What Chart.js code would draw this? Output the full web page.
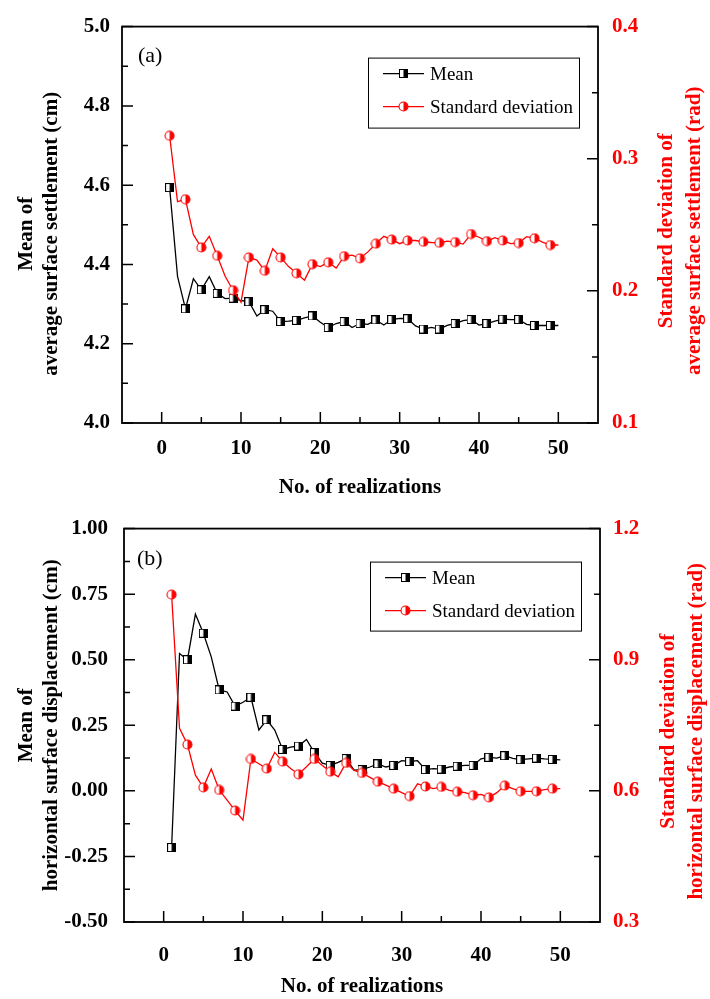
<!DOCTYPE html>
<html><head><meta charset="utf-8">
<script src="https://cdn.jsdelivr.net/npm/chart.js@4.4.1/dist/chart.umd.min.js"></script>
<style>
html,body{margin:0;padding:0;background:#fff;}
#wrap{position:relative;width:710px;height:999px;overflow:hidden;}
canvas{position:absolute;left:0;}
</style></head><body>
<div id="wrap">
<canvas id="c1" width="710" height="500" style="top:0"></canvas>
<canvas id="c2" width="710" height="499" style="top:500px"></canvas>
</div>
<script>
// ---------- data ----------
const realizations = [1,2,3,4,5,6,7,8,9,10,11,12,13,14,15,16,17,18,19,20,21,22,23,24,25,26,27,28,29,30,31,32,33,34,35,36,37,38,39,40,41,42,43,44,45,46,47,48,49,50];

const meanSettlement = [4.594,4.370,4.288,4.364,4.336,4.369,4.327,4.314,4.315,4.309,4.306,4.270,4.286,4.282,4.256,4.257,4.259,4.265,4.270,4.254,4.241,4.251,4.256,4.241,4.251,4.249,4.260,4.247,4.261,4.264,4.263,4.245,4.237,4.241,4.237,4.246,4.251,4.258,4.261,4.247,4.251,4.257,4.262,4.261,4.261,4.249,4.246,4.246,4.246,4.246];
const sdSettlement = [0.3174,0.2676,0.2693,0.2425,0.2329,0.2413,0.2266,0.2111,0.2005,0.1914,0.2253,0.2233,0.2152,0.2319,0.2253,0.2184,0.2133,0.2081,0.2202,0.2184,0.2216,0.2172,0.2262,0.2270,0.2246,0.2295,0.2357,0.2413,0.2388,0.2357,0.2381,0.2381,0.2371,0.2366,0.2364,0.2376,0.2369,0.2354,0.2430,0.2406,0.2376,0.2403,0.2381,0.2357,0.2362,0.2410,0.2398,0.2369,0.2347,0.2347];

const meanDisplacement = [-0.216,0.524,0.500,0.674,0.601,0.511,0.385,0.377,0.323,0.338,0.357,0.232,0.271,0.232,0.158,0.167,0.171,0.196,0.146,0.106,0.097,0.109,0.123,0.079,0.081,0.091,0.103,0.091,0.097,0.115,0.112,0.115,0.081,0.085,0.083,0.091,0.094,0.097,0.097,0.122,0.128,0.125,0.134,0.124,0.119,0.122,0.125,0.122,0.120,0.118];
const sdDisplacement = [1.049,0.743,0.706,0.636,0.608,0.650,0.602,0.579,0.555,0.533,0.673,0.662,0.651,0.688,0.667,0.651,0.638,0.655,0.673,0.658,0.644,0.632,0.664,0.647,0.641,0.631,0.621,0.613,0.605,0.596,0.588,0.616,0.610,0.605,0.609,0.601,0.598,0.596,0.590,0.592,0.585,0.596,0.612,0.605,0.599,0.599,0.599,0.603,0.605,0.605];

// ---------- ticks ----------
const xTickValues = [0,10,20,30,40,50];
const xTickLabels = ['0','10','20','30','40','50'];
const xMinorValues = [5,15,25,35,45];

const yTicksA = [4.0,4.2,4.4,4.6,4.8,5.0];
const yLabelsA = ['4.0','4.2','4.4','4.6','4.8','5.0'];
const yMinorA = [4.1,4.3,4.5,4.7,4.9];
const y1TicksA = [0.1,0.2,0.3,0.4];
const y1LabelsA = ['0.1','0.2','0.3','0.4'];
const y1MinorA = [0.15,0.25,0.35];

const yTicksB = [-0.50,-0.25,0.00,0.25,0.50,0.75,1.00];
const yLabelsB = ['-0.50','-0.25','0.00','0.25','0.50','0.75','1.00'];
const yMinorB = [-0.375,-0.125,0.125,0.375,0.625,0.875];
const y1TicksB = [0.3,0.6,0.9,1.2];
const y1LabelsB = ['0.3','0.6','0.9','1.2'];
const y1MinorB = [0.45,0.75,1.05];

const seriesNames = ['Mean','Standard deviation'];

// ---------- styling ----------
const FONT = '"Liberation Serif", "Times New Roman", serif';
const RED = '#ff0000';

function squareMarker(){
  const c=document.createElement('canvas'); c.width=9; c.height=9;
  const g=c.getContext('2d');
  g.fillStyle='#000'; g.fillRect(0,0,9,9);
  g.fillStyle='#fff'; g.fillRect(1,1,3.5,7);
  return c;
}
function circleMarker(){
  const c=document.createElement('canvas'); c.width=11; c.height=11;
  const g=c.getContext('2d');
  g.beginPath(); g.arc(5.5,5.5,4.5,0,Math.PI*2); g.fillStyle='#fff'; g.fill();
  g.beginPath(); g.moveTo(5.5,1); g.arc(5.5,5.5,4.5,-Math.PI/2,Math.PI/2); g.closePath(); g.fillStyle=RED; g.fill();
  g.beginPath(); g.arc(5.5,5.5,4.5,0,Math.PI*2); g.strokeStyle=RED; g.lineWidth=1.1; g.stroke();
  return c;
}
const SQ = squareMarker();
const CI = circleMarker();

const decorPlugin = {
  id:'decor',
  afterDraw(chart){
    const o = chart.options.plugins.decor;
    const ctx = chart.ctx, a = chart.chartArea;
    const sx = chart.scales.x, sy = chart.scales.y, sy1 = chart.scales.y1;
    ctx.save();
    ctx.strokeStyle='#000'; ctx.lineWidth=1.5;
    // ticks (pointing into the plot)
    const MAJ=11, MIN=6;
    ctx.beginPath();
    o.xMaj.forEach(v=>{const p=sx.getPixelForValue(v); ctx.moveTo(p,a.bottom); ctx.lineTo(p,a.bottom-MAJ);});
    o.xMin.forEach(v=>{const p=sx.getPixelForValue(v); ctx.moveTo(p,a.bottom); ctx.lineTo(p,a.bottom-MIN);});
    o.yMaj.forEach(v=>{const p=sy.getPixelForValue(v); ctx.moveTo(a.left,p); ctx.lineTo(a.left+MAJ,p);});
    o.yMin.forEach(v=>{const p=sy.getPixelForValue(v); ctx.moveTo(a.left,p); ctx.lineTo(a.left+MIN,p);});
    o.y1Maj.forEach(v=>{const p=sy1.getPixelForValue(v); ctx.moveTo(a.right,p); ctx.lineTo(a.right-MAJ,p);});
    o.y1Min.forEach(v=>{const p=sy1.getPixelForValue(v); ctx.moveTo(a.right,p); ctx.lineTo(a.right-MIN,p);});
    ctx.stroke();
    // frame
    ctx.lineWidth=1.8;
    ctx.strokeRect(a.left,a.top,a.right-a.left,a.bottom-a.top);
    // panel label
    ctx.fillStyle='#000'; ctx.font='22px '+FONT; ctx.textAlign='left'; ctx.textBaseline='middle';
    ctx.fillText(o.panel, a.left+o.panelDx, a.top+o.panelDy);
    // legend
    const L=o.legend;
    const bx=a.left+L.dx, by=a.top+L.dy;
    ctx.lineWidth=1; ctx.strokeStyle='#000';
    ctx.strokeRect(bx+0.5,by+0.5,L.w,L.h);
    const ds = chart.data.datasets;
    const rows=[{d:ds[1],img:SQ,y:by+16},{d:ds[0],img:CI,y:by+49}];
    rows.forEach(r=>{
      ctx.beginPath(); ctx.strokeStyle=r.d.borderColor; ctx.lineWidth=1.3;
      ctx.moveTo(bx+15,r.y); ctx.lineTo(bx+56,r.y); ctx.stroke();
      ctx.drawImage(r.img, Math.round(bx+35-r.img.width/2), Math.round(r.y-r.img.height/2));
      ctx.fillStyle='#000'; ctx.font='19px '+FONT; ctx.textAlign='left'; ctx.textBaseline='middle';
      ctx.fillText(r.d.label, bx+62, r.y+1);
    });
    // axis titles (both read bottom to top)
    ctx.font='bold 21px '+FONT; ctx.textAlign='center'; ctx.textBaseline='middle';
    const cyL=(a.top+a.bottom)/2+o.ltDy;
    ctx.fillStyle='#000';
    o.leftTitle.forEach((t,i)=>{
      ctx.save(); ctx.translate(o.ltX[i], cyL); ctx.rotate(-Math.PI/2); ctx.fillText(t,0,0); ctx.restore();
    });
    const cyR=(a.top+a.bottom)/2+o.rtDy;
    ctx.fillStyle=RED;
    o.rightTitle.forEach((t,i)=>{
      ctx.save(); ctx.translate(a.right+o.rtX[i], cyR); ctx.rotate(-Math.PI/2); ctx.fillText(t,0,0); ctx.restore();
    });
    ctx.restore();
  }
};

function makeChart(id, cfg){
  const tickFont = {family:FONT, size:21, weight:'bold'};
  return new Chart(document.getElementById(id), {
    type:'line',
    data:{datasets:[
      {label:seriesNames[1], yAxisID:'y1', data:realizations.map((x,i)=>({x:x,y:cfg.sd[i]})),
       borderColor:RED, backgroundColor:RED, borderWidth:1.3, tension:0,
       pointStyle:c=>c.dataIndex%2===0?CI:'circle', pointRadius:c=>c.dataIndex%2===0?5:0, order:0},
      {label:seriesNames[0], yAxisID:'y', data:realizations.map((x,i)=>({x:x,y:cfg.mean[i]})),
       borderColor:'#000', backgroundColor:'#000', borderWidth:1.3, tension:0,
       pointStyle:c=>c.dataIndex%2===0?SQ:'circle', pointRadius:c=>c.dataIndex%2===0?4:0, order:1}
    ]},
    options:{
      responsive:false, animation:false, devicePixelRatio:1,
      layout:{padding:{top:cfg.padTop,left:0,right:0,bottom:0}},
      plugins:{legend:{display:false}, tooltip:{enabled:false},
        decor:{xMaj:xTickValues, xMin:xMinorValues, yMaj:cfg.yT, yMin:cfg.yM, y1Maj:cfg.y1T, y1Min:cfg.y1M,
               panel:cfg.panel, panelDx:cfg.panelDx, panelDy:cfg.panelDy, legend:cfg.legend,
               leftTitle:cfg.leftTitle, ltX:cfg.ltX, ltDy:cfg.ltDy,
               rightTitle:cfg.rightTitle, rtX:cfg.rtX, rtDy:cfg.rtDy}},
      scales:{
        x:{type:'linear', position:'bottom', min:-5, max:55,
          afterBuildTicks:s=>{s.ticks=xTickValues.map(v=>({value:v}));},
          afterFit:s=>{s.height=cfg.xH;},
          grid:{display:false, drawTicks:false}, border:{display:false},
          ticks:{padding:cfg.xPad, color:'#000', font:tickFont, maxRotation:0, autoSkip:false,
                 callback:(v,i)=>xTickLabels[i]},
          title:{display:true, text:'No. of realizations', color:'#000', font:{family:FONT,size:21,weight:'bold',lineHeight:'24px'}, padding:{top:0,bottom:cfg.xtPad}}
        },
        y:{type:'linear', position:'left', min:cfg.yT[0], max:cfg.yT[cfg.yT.length-1],
          afterBuildTicks:s=>{s.ticks=cfg.yT.map(v=>({value:v}));},
          afterFit:s=>{s.width=cfg.leftW;},
          grid:{display:false, drawTicks:false}, border:{display:false},
          ticks:{padding:cfg.yPad, color:'#000', font:tickFont, autoSkip:false, callback:(v,i)=>cfg.yL[i]}
        },
        y1:{type:'linear', position:'right', min:cfg.y1T[0], max:cfg.y1T[cfg.y1T.length-1],
          afterBuildTicks:s=>{s.ticks=cfg.y1T.map(v=>({value:v}));},
          afterFit:s=>{s.width=cfg.rightW;},
          grid:{display:false, drawTicks:false}, border:{display:false},
          ticks:{padding:cfg.y1Pad, color:RED, font:tickFont, autoSkip:false, callback:(v,i)=>cfg.y1L[i]}
        }
      }
    },
    plugins:[decorPlugin]
  });
}

makeChart('c1', {
  mean:meanSettlement, sd:sdSettlement,
  yT:yTicksA, yL:yLabelsA, yM:yMinorA, y1T:y1TicksA, y1L:y1LabelsA, y1M:y1MinorA,
  padTop:17, xH:77, leftW:122, rightW:112, xPad:13, xtPad:0, yPad:12, y1Pad:14,
  leftTitle:['Mean of','average surface settlement (cm)'], ltX:[27,52], ltDy:9,
  rightTitle:['Standard deviation of','average surface settlement (rad)'], rtX:[69,97], rtDy:6,
  panel:'(a)', panelDx:16, panelDy:30,
  legend:{dx:246, dy:31, w:211, h:70}
});
makeChart('c2', {
  mean:meanDisplacement, sd:sdDisplacement,
  yT:yTicksB, yL:yLabelsB, yM:yMinorB, y1T:y1TicksB, y1L:y1LabelsB, y1M:y1MinorB,
  padTop:14, xH:77, leftW:124, rightW:110, xPad:21, xtPad:0, yPad:16, y1Pad:13,
  leftTitle:['Mean of','horizontal surface displacement (cm)'], ltX:[27,52], ltDy:0,
  rightTitle:['Standard deviation of','horizontal surface displacement (rad)'], rtX:[69,97], rtDy:6,
  panel:'(b)', panelDx:13, panelDy:31,
  legend:{dx:246, dy:33, w:211, h:69}
});
</script>
</body></html>
